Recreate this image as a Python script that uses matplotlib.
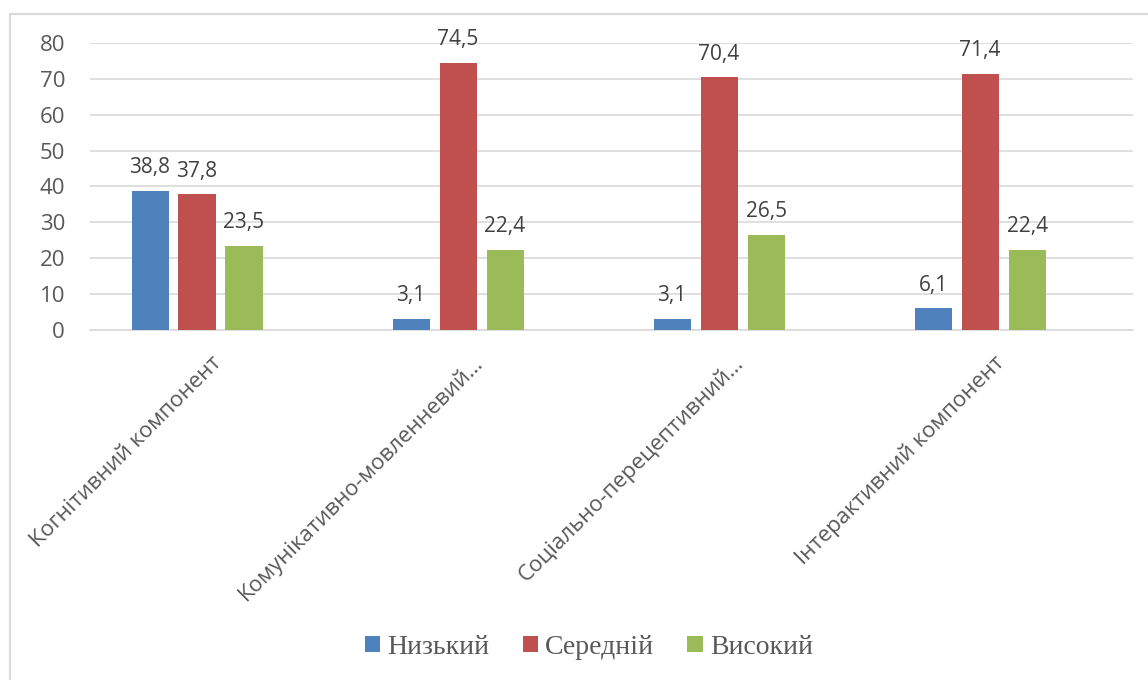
import matplotlib.pyplot as plt
import numpy as np
from matplotlib.lines import Line2D
from matplotlib.transforms import ScaledTranslation

categories = ['Когнітивний компонент', 'Комунікативно-мовленневий…',
              'Соціально-перецептивний…', 'Інтерактивний компонент']
series = ['Низький', 'Середній', 'Високий']
low = [38.8, 3.1, 3.1, 6.1]
mid = [37.8, 74.5, 70.4, 71.4]
high = [23.5, 22.4, 26.5, 22.4]
colors = ['#4f81bd', '#c0504d', '#9bbb59']

plt.rcParams['font.family'] = ['Open Sans', 'DejaVu Sans']

fig = plt.figure(figsize=(11.48, 6.8), dpi=100)
ax = fig.add_axes([0.0784, 0.5147, 0.9086, 0.4221])

x = np.arange(len(categories))
w = 0.142
step = 0.18
for i, (vals, name, c) in enumerate(zip([low, mid, high], series, colors)):
    pos = x + (i - 1) * step
    ax.bar(pos, vals, width=w, color=c, label=name, zorder=3)
    for p, v in zip(pos, vals):
        ax.annotate(f'{v:.1f}'.replace('.', ','), (p, v), xytext=(0, 9),
                    textcoords='offset points', ha='center', va='bottom',
                    fontsize=15, color='#404040')

ax.set_xlim(-0.41, 3.586)
ax.set_ylim(0, 80)
ax.set_yticks(range(0, 81, 10))
ax.yaxis.grid(True, color='#d9d9d9', lw=1.2, zorder=0)
for s in ['top', 'right', 'left']:
    ax.spines[s].set_visible(False)
ax.spines['bottom'].set_color('#d9d9d9')
ax.spines['bottom'].set_linewidth(1.2)
ax.tick_params(axis='both', length=0, labelsize=16, labelcolor='#595959')
ax.tick_params(axis='y', pad=18)
ax.set_xticks(x)
ax.set_xticklabels(categories, rotation=45, ha='right', va='top',
                   rotation_mode='anchor')
ax.tick_params(axis='x', pad=10)
shift = ScaledTranslation(0.14, -0.08, fig.dpi_scale_trans)
for lbl in ax.get_xticklabels():
    lbl.set_transform(lbl.get_transform() + shift)

leg = fig.legend(loc='center', bbox_to_anchor=(0.513, 0.048), ncol=3, frameon=False,
                 prop={'family': 'Liberation Serif', 'size': 20},
                 handlelength=0.55, handleheight=0.55, handletextpad=0.25,
                 columnspacing=1.2)
for t in leg.get_texts():
    t.set_color('#595959')

# chart frame
fig.add_artist(Line2D([10 / 1148, 10 / 1148], [0, 1 - 14 / 680], color='#d9d9d9', lw=1.5))
fig.add_artist(Line2D([10 / 1148, 1], [1 - 14 / 680, 1 - 14 / 680], color='#d9d9d9', lw=1.5))

fig.savefig('out.png', dpi=100)
